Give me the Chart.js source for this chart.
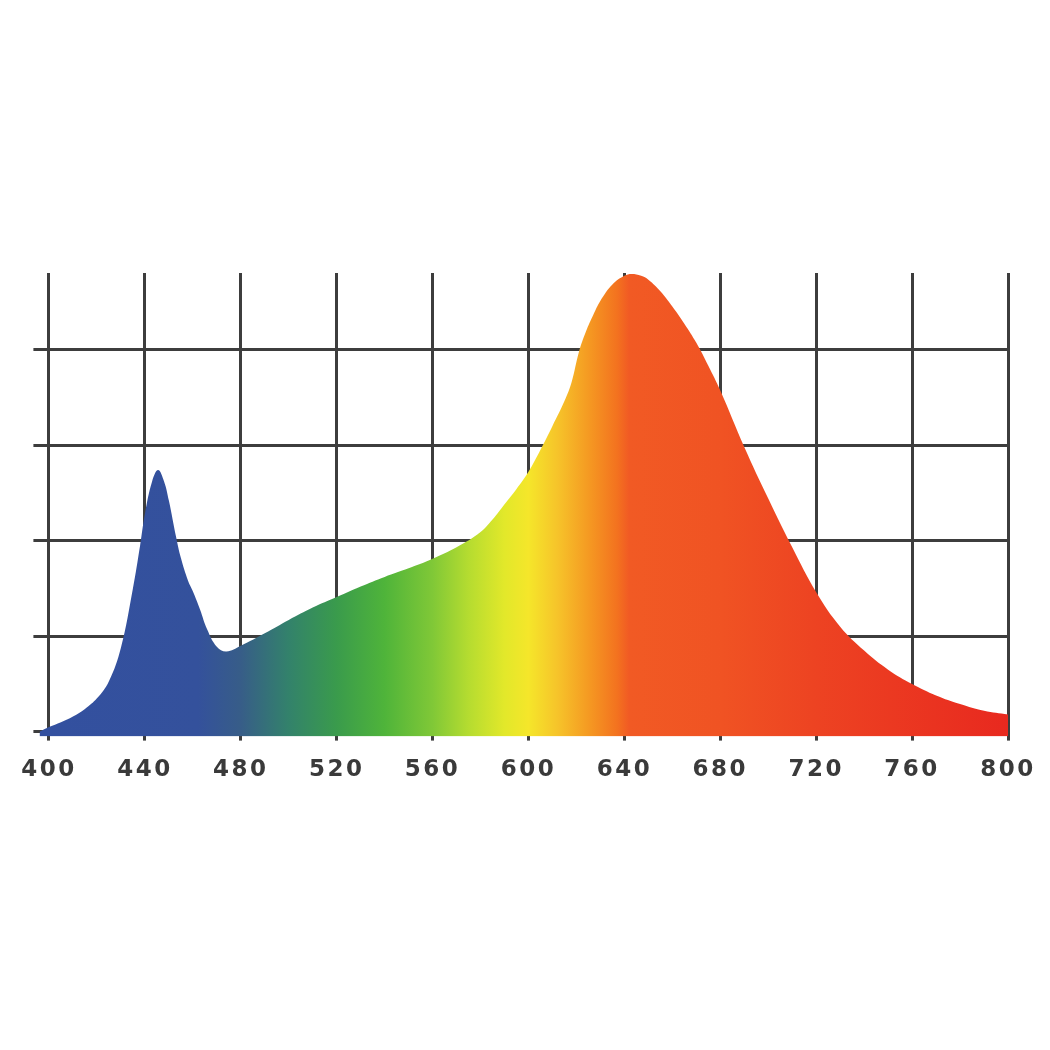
<!DOCTYPE html>
<html>
<head>
<meta charset="utf-8">
<script src="https://cdn.jsdelivr.net/npm/chart.js@4"></script>
<style>
  html, body { margin: 0; padding: 0; background: #ffffff; }
  #wrap { width: 1050px; height: 1050px; }
</style>
</head>
<body>
<div id="wrap"><canvas id="c" width="1050" height="1050"></canvas></div>
<script>
// Wavelength (nm) and relative intensity
const wavelengths = [396, 400, 405, 410, 415, 420, 425, 430, 435, 438, 440, 443, 445.5, 448, 450, 453, 455, 458, 460, 463, 466, 470, 474, 480, 490, 500, 510, 520, 530, 540, 550, 560, 570, 580, 585, 590, 595, 600, 605, 610, 615, 618, 621, 624, 627, 630, 635, 640, 643, 647, 650, 655, 660, 665, 670, 675, 680, 690, 700, 710, 720, 730, 740, 750, 760, 770, 780, 790, 800];
const intensity   = [0.0, 0.05, 0.10, 0.16, 0.24, 0.35, 0.53, 0.88, 1.50, 1.95, 2.28, 2.62, 2.74, 2.62, 2.42, 2.04, 1.82, 1.58, 1.47, 1.28, 1.07, 0.89, 0.84, 0.90, 1.03, 1.17, 1.30, 1.41, 1.52, 1.62, 1.71, 1.81, 1.93, 2.09, 2.22, 2.38, 2.54, 2.72, 2.95, 3.20, 3.46, 3.66, 3.97, 4.19, 4.36, 4.51, 4.68, 4.77, 4.79, 4.77, 4.73, 4.61, 4.45, 4.27, 4.07, 3.83, 3.57, 2.98, 2.44, 1.93, 1.46, 1.10, 0.85, 0.65, 0.50, 0.38, 0.29, 0.22, 0.18];
const xTickValues = [400, 440, 480, 520, 560, 600, 640, 680, 720, 760, 800];
const yTickValues = [0, 1, 2, 3, 4];

// Spectrum fill colours (style)
const gradNm     = [400, 462, 480, 500, 520, 540, 560, 575, 590, 600, 612, 625, 637, 642, 680, 720, 800];
const gradColors = ['#33509f', '#34519c', '#375d88', '#33826b', '#3a9b4c', '#4fb43a', '#80c837', '#b5dc30', '#e2e82a', '#f5e62a', '#f6c42a', '#f59a22', '#f3721f', '#f15a24', '#f05323', '#ed4322', '#e8291f'];

const GRID = '#3d3d3d';

const spacingPlugin = {
  id: 'spacing',
  beforeDraw(chart) { chart.ctx.letterSpacing = '2.5px'; }
};

new Chart(document.getElementById('c'), {
  type: 'line',
  data: {
    datasets: [{
      data: wavelengths.map((w, i) => ({ x: w, y: intensity[i] })),
      borderWidth: 0,
      borderColor: 'rgba(0,0,0,0)',
      pointRadius: 0,
      fill: 'start',
      tension: 0.4,
      backgroundColor: (ctx) => {
        const chart = ctx.chart;
        if (!chart.chartArea) return '#33509f';
        const xs = chart.scales.x;
        const g = chart.ctx.createLinearGradient(xs.left, 0, xs.right, 0);
        gradNm.forEach((nm, i) => {
          let p = (xs.getPixelForValue(nm) - xs.left) / (xs.right - xs.left);
          p = Math.min(1, Math.max(0, p));
          g.addColorStop(p, gradColors[i]);
        });
        return g;
      }
    }]
  },
  options: {
    responsive: false,
    animation: false,
    devicePixelRatio: 1,
    layout: { padding: { left: 33.4, right: 42, top: 273, bottom: 250.8 } },
    plugins: { legend: { display: false }, tooltip: { enabled: false } },
    scales: {
      x: {
        type: 'linear',
        min: 396,
        max: 800,
        z: 1,
        afterBuildTicks: (scale) => { scale.ticks = xTickValues.map(v => ({ value: v })); },
        grid: { color: GRID, lineWidth: 3, tickLength: 4, tickColor: GRID, drawTicks: true },
        border: { display: false },
        ticks: {
          maxRotation: 0,
          autoSkip: false,
          padding: 15.5,
          color: '#3a3a3a',
          font: { family: 'DejaVu Sans', size: 23, weight: 'bold' }
        }
      },
      y: {
        type: 'linear',
        min: -0.05,
        max: 4.8,
        z: 1,
        afterBuildTicks: (scale) => { scale.ticks = yTickValues.map(v => ({ value: v })); },
        grid: { color: GRID, lineWidth: 3, tickLength: 6, tickColor: GRID, drawTicks: true },
        border: { display: false },
        ticks: { display: false }
      }
    }
  },
  plugins: [spacingPlugin]
});
</script>
</body>
</html>
